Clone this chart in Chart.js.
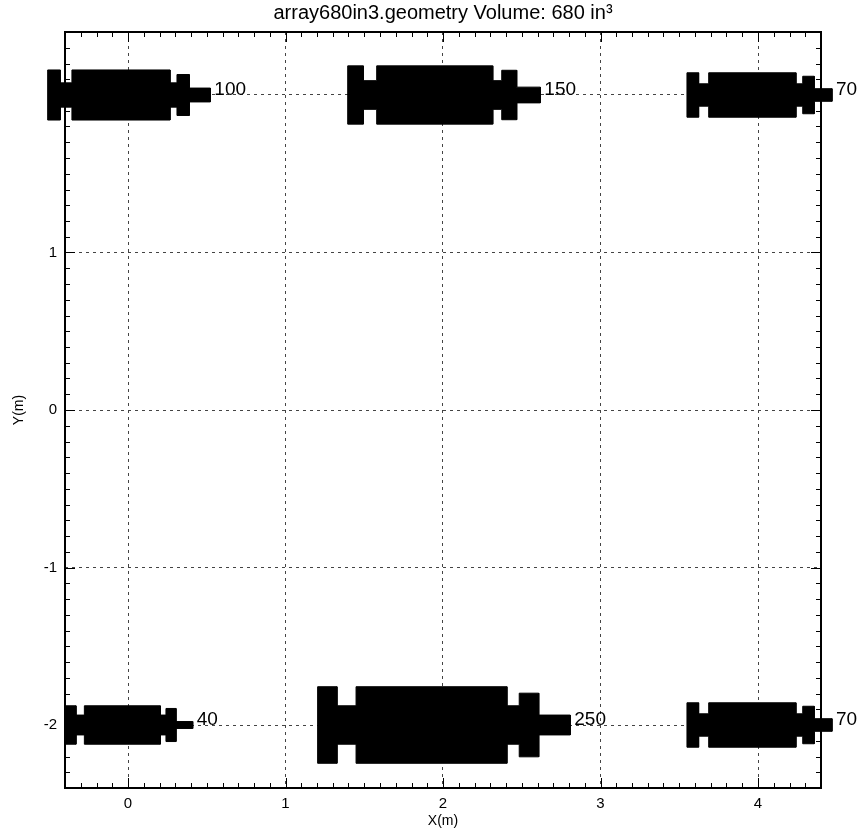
<!DOCTYPE html>
<html>
<head>
<meta charset="utf-8">
<script src="https://cdn.jsdelivr.net/npm/chart.js@4"></script>
<style>
  html, body { margin: 0; padding: 0; background: #fff; }
  canvas { display: block; }
</style>
</head>
<body>
<canvas id="geom" width="863" height="834"></canvas>
<script>
// volumes (in3) for each gun, and gun centre line
const gunVolumes = [100, 150, 70, 40, 250, 70];
const gunCenterY = [2, 2, 2, -2, -2, -2];
// x breakpoints (m): flange start, neck, body, neck, rear flange, nozzle, nozzle end
const gunEdgesX = [
  [-0.51, -0.43, -0.356, 0.267, 0.311, 0.389, 0.523],
  [1.395, 1.494, 1.579, 2.316, 2.373, 2.468, 2.618],
  [3.549, 3.623, 3.687, 4.241, 4.284, 4.357, 4.470],
  [-0.40, -0.330, -0.277, 0.205, 0.241, 0.305, 0.411],
  [1.204, 1.327, 1.448, 2.406, 2.484, 2.608, 2.808],
  [3.549, 3.623, 3.687, 4.241, 4.284, 4.357, 4.470],
];
// half heights (m): body, neck, rear flange, nozzle
const gunHalfH = [
  [0.159, 0.077, 0.130, 0.044],
  [0.185, 0.091, 0.157, 0.050],
  [0.141, 0.071, 0.119, 0.040],
  [0.122, 0.063, 0.105, 0.022],
  [0.243, 0.122, 0.202, 0.063],
  [0.141, 0.071, 0.119, 0.040],
];
const xTicks = [0, 1, 2, 3, 4];
const yTicks = [-2, -1, 0, 1, 2];

const FONT = '"Liberation Sans", Arial, sans-serif';
Chart.defaults.font.family = FONT;
Chart.defaults.color = "#000";

// outline of one gun as a closed polygon
function gunOutline(e, h, yc) {
  const [b, n, f, z] = h;
  const top = [
    [e[0], b], [e[1], b], [e[1], n], [e[2], n], [e[2], b], [e[3], b],
    [e[3], n], [e[4], n], [e[4], f], [e[5], f], [e[5], z], [e[6], z],
  ];
  const pts = top.map(([x, d]) => ({ x, y: yc + d }));
  const bottom = top.slice().reverse().map(([x, d]) => ({ x, y: yc - d }));
  const all = pts.concat(bottom);
  all.push(all[0]);
  return all;
}

const datasets = gunVolumes.map((v, i) => ({
  label: String(v),
  data: gunOutline(gunEdgesX[i], gunHalfH[i], gunCenterY[i]),
  showLine: true,
  borderColor: "#000",
  borderWidth: 1,
  pointRadius: 0,
  tension: 0,
  fill: false,
  clip: false,
}));

// fill the gun outlines (filler plugin clips to chart area, guns overhang it)
const gunFill = {
  id: "gunFill",
  beforeDatasetDraw(chart, args) {
    const pts = args.meta.data;
    if (!pts.length) return;
    const ctx = chart.ctx;
    ctx.save();
    ctx.beginPath();
    pts.forEach((p, k) => (k ? ctx.lineTo(p.x, p.y) : ctx.moveTo(p.x, p.y)));
    ctx.closePath();
    ctx.fillStyle = "#000";
    ctx.fill();
    ctx.restore();
  },
  afterDatasetsDraw(chart) {
    const { ctx, scales } = chart;
    ctx.save();
    ctx.font = "19px " + FONT;
    ctx.fillStyle = "#000";
    ctx.textAlign = "left";
    ctx.textBaseline = "alphabetic";
    gunVolumes.forEach((v, i) => {
      const x = scales.x.getPixelForValue(gunEdgesX[i][6]) + 4;
      const y = scales.y.getPixelForValue(gunCenterY[i]);
      ctx.fillText(String(v), x, y);
    });
    ctx.restore();
  },
};

// frame + inward minor/major ticks on all four sides
const frameTicks = {
  id: "frameTicks",
  afterDraw(chart) {
    const { ctx, chartArea: a, scales } = chart;
    ctx.save();
    ctx.strokeStyle = "#000";
    ctx.lineWidth = 1;
    ctx.beginPath();
    for (let k = -4; k <= 44; k++) {
      const v = k / 10;
      const len = k % 10 === 0 ? 10 : 5;
      const px = Math.round(scales.x.getPixelForValue(v)) + 0.5;
      ctx.moveTo(px, a.bottom); ctx.lineTo(px, a.bottom - len);
      ctx.moveTo(px, a.top); ctx.lineTo(px, a.top + len);
    }
    for (let k = -24; k <= 24; k++) {
      const v = k / 10;
      const len = k % 10 === 0 ? 10 : 5;
      const py = Math.round(scales.y.getPixelForValue(v)) + 0.5;
      ctx.moveTo(a.left, py); ctx.lineTo(a.left + len, py);
      ctx.moveTo(a.right, py); ctx.lineTo(a.right - len, py);
    }
    ctx.stroke();
    ctx.lineWidth = 2;
    ctx.strokeRect(a.left, a.top, a.right - a.left, a.bottom - a.top);
    ctx.restore();
  },
};

new Chart(document.getElementById("geom"), {
  type: "scatter",
  data: { datasets },
  plugins: [gunFill, frameTicks],
  options: {
    responsive: false,
    animation: false,
    layout: { padding: { left: 0, right: 42, top: 0, bottom: 0 } },
    plugins: {
      legend: { display: false },
      tooltip: { enabled: false },
      title: {
        display: true,
        fullSize: false,
        text: "array680in3.geometry Volume: 680 in³",
        color: "#000",
        font: { size: 20, weight: "normal" },
        padding: { top: 1, bottom: 7 },
      },
    },
    scales: {
      x: {
        type: "linear",
        min: -0.4,
        max: 4.4,
        afterBuildTicks: (s) => { s.ticks = xTicks.map((value) => ({ value })); },
        afterFit: (s) => { s.height = 46; },
        grid: { color: "#444", lineWidth: 1, drawTicks: false },
        border: { display: false, dash: [3, 4] },
        ticks: { font: { size: 15 }, color: "#000", padding: 7, maxRotation: 0 },
        title: {
          display: true,
          text: "X(m)",
          color: "#000",
          font: { size: 14 },
          padding: { top: 0, bottom: 4 },
        },
      },
      y: {
        type: "linear",
        min: -2.4,
        max: 2.4,
        afterBuildTicks: (s) => { s.ticks = yTicks.map((value) => ({ value })); },
        afterFit: (s) => { s.width = 65; },
        grid: { color: "#444", lineWidth: 1, drawTicks: false },
        border: { display: false, dash: [3, 4] },
        ticks: { font: { size: 15 }, color: "#000", padding: 8 },
        title: {
          display: true,
          text: "Y(m)",
          color: "#000",
          font: { size: 14 },
          padding: { top: 11, bottom: 0 },
        },
      },
    },
  },
});
</script>
</body>
</html>
